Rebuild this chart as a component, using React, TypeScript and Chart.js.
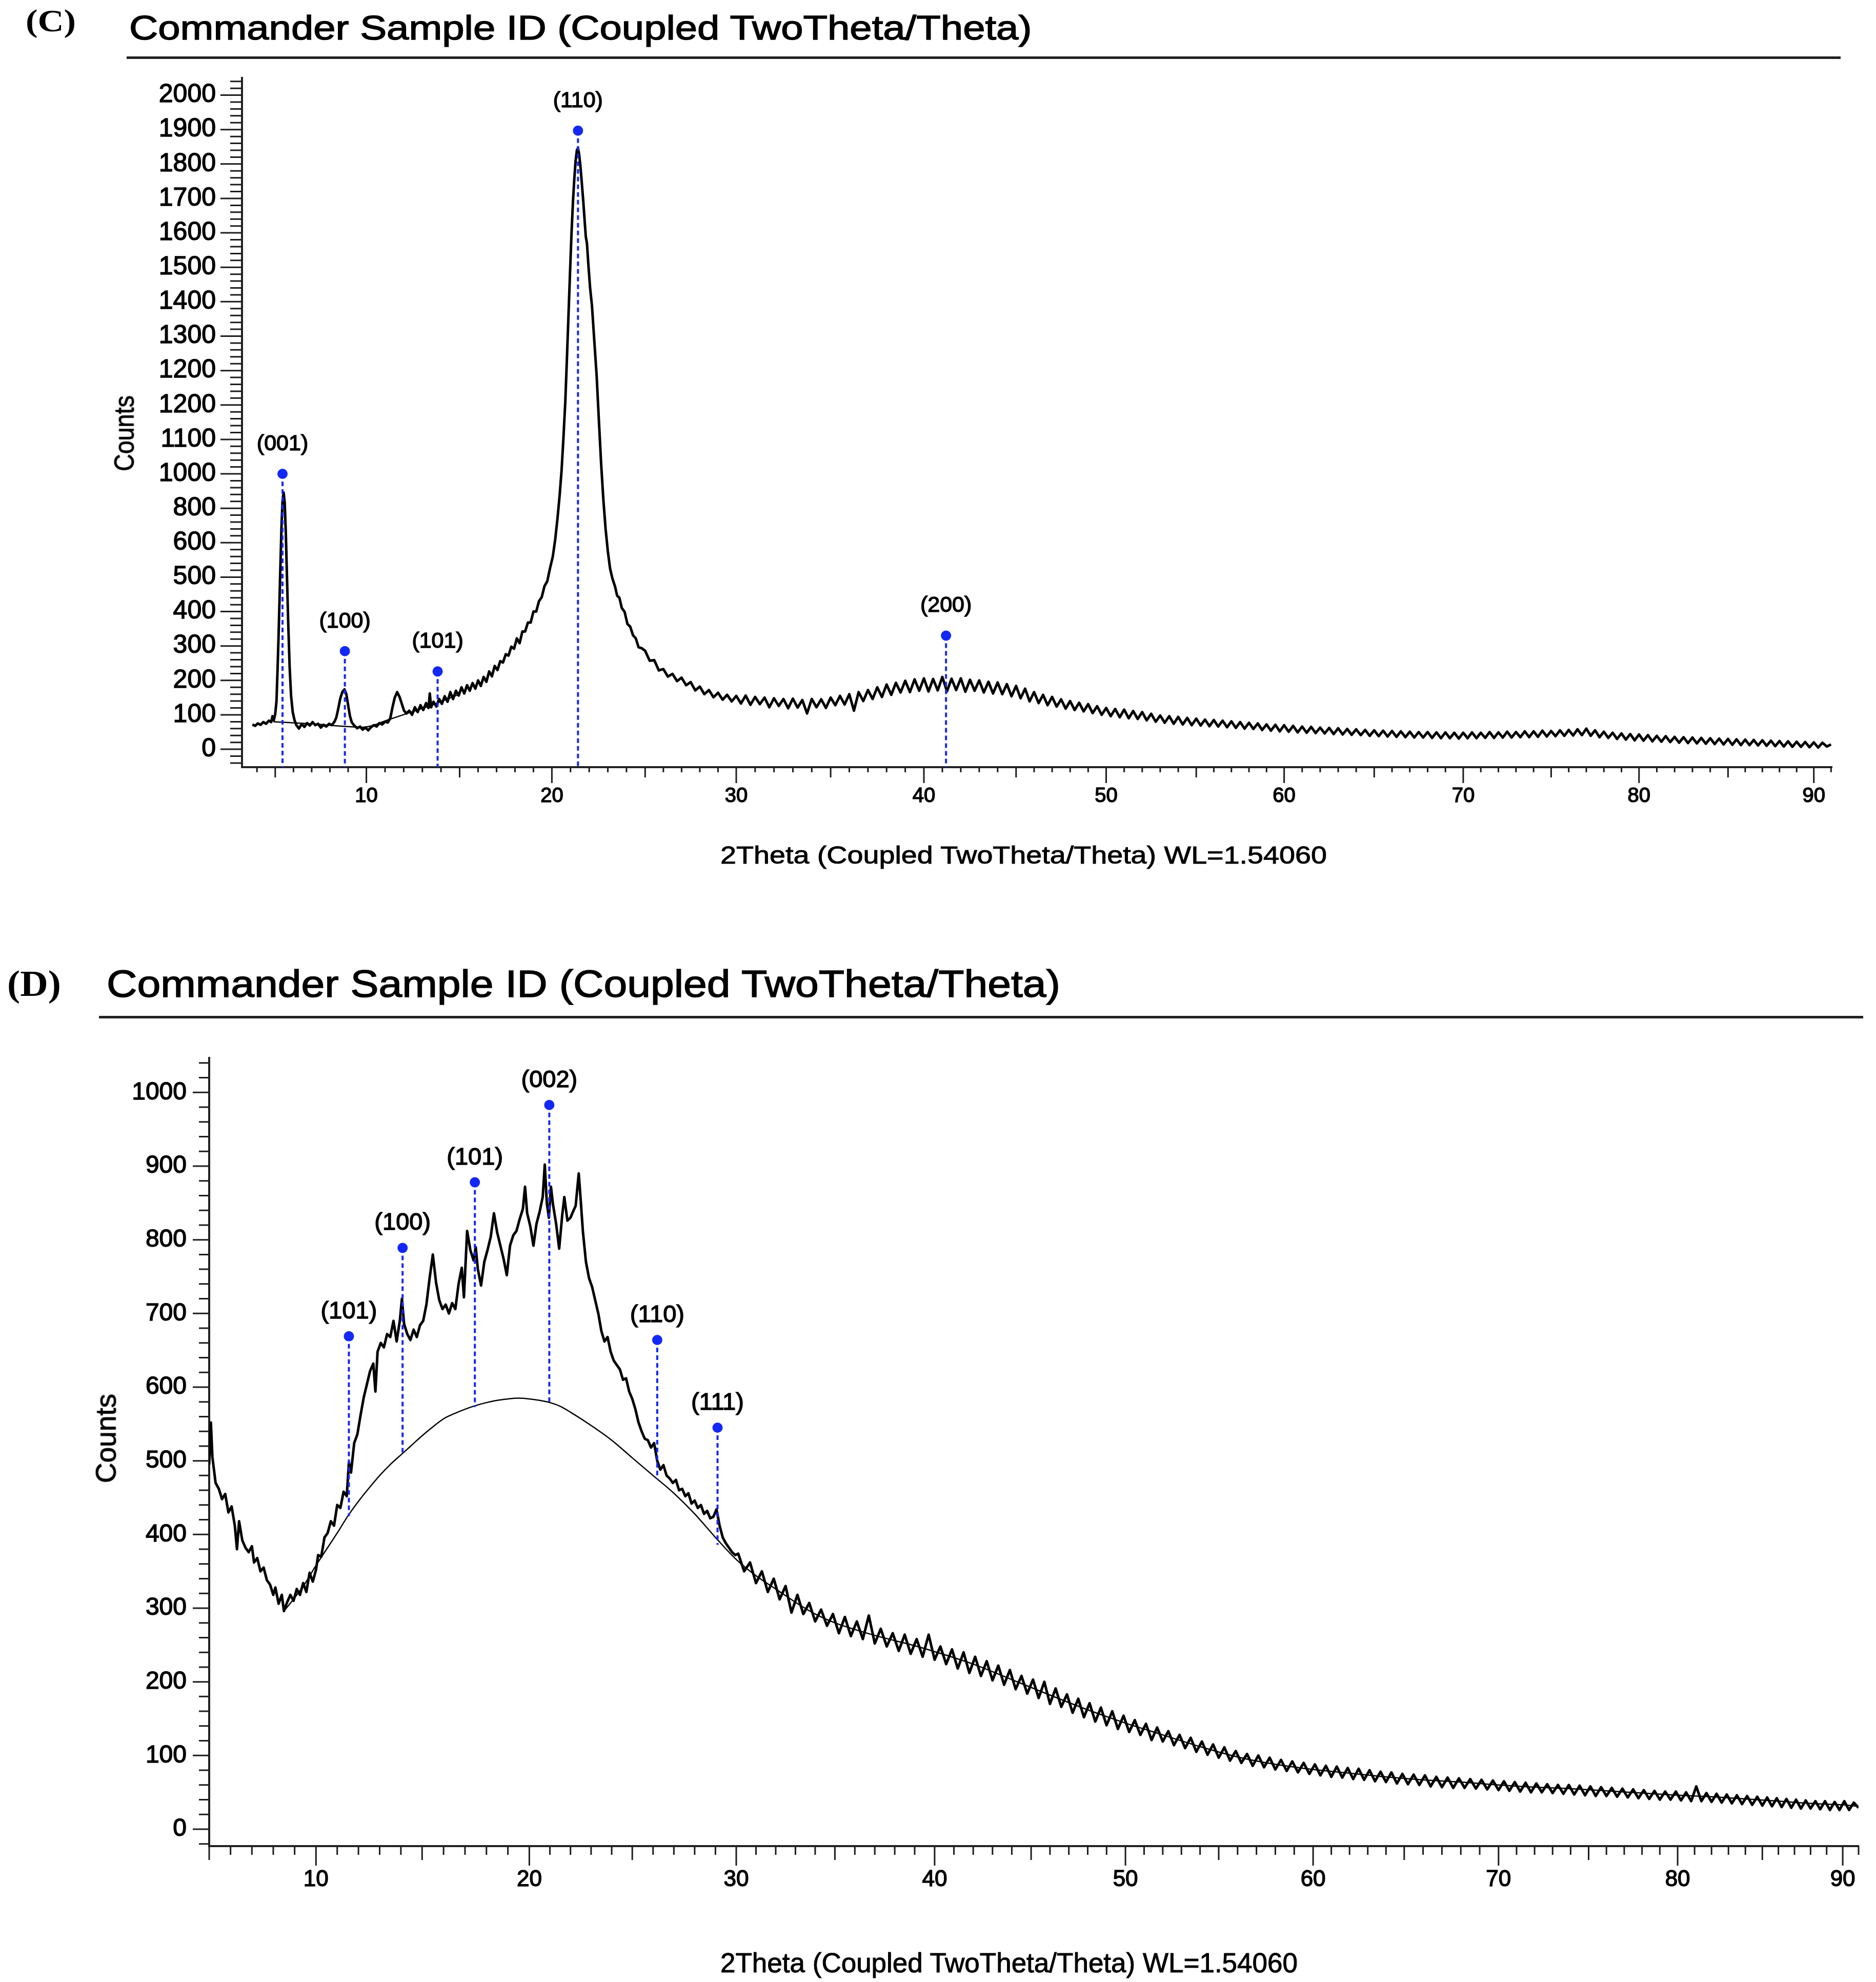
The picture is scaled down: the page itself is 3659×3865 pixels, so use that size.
import { useEffect, useRef } from 'react';
import { Chart, LinearScale, registerables } from 'chart.js';

// ---- panel C data (counts in axis units, 100 per labelled step) ----
const cScan: [number, number][] = [
  [3.75,72],[3.9,68],[4.05,75],[4.2,71],[4.35,79],[4.5,74],[4.65,83],[4.78,79],[4.85,96],[4.92,84],
  [5.0,102],[5.07,140],[5.13,235],[5.2,360],[5.27,505],[5.34,640],[5.4,722],[5.46,746],[5.52,716],[5.58,630],
  [5.64,510],[5.71,372],[5.79,240],[5.87,155],[5.96,108],[6.06,84],[6.16,70],
  [6.3,60],[6.45,73],[6.6,65],[6.75,76],[6.9,69],[7.05,79],[7.2,70],[7.35,74],[7.5,63],[7.65,71],[7.8,66],
  [7.95,74],[8.1,70],[8.25,80],[8.35,92],
  [8.45,116],[8.57,148],[8.68,166],[8.8,174],[8.9,160],[9.0,128],[9.1,96],[9.2,78],
  [9.35,68],[9.5,61],[9.65,66],[9.8,57],[9.95,63],[10.1,55],[10.25,64],[10.4,70],[10.55,66],[10.7,76],
  [10.85,72],[11.0,80],[11.15,78],[11.28,90],
  [11.4,122],[11.52,150],[11.65,166],[11.78,152],[11.9,132],[12.02,112],[12.15,104],
  [12.3,112],[12.45,100],[12.6,122],[12.75,108],[12.9,128],[13.05,114],[13.2,134],[13.33,120],[13.4,162],
  [13.47,122],[13.6,138],[13.75,124],[13.9,146],[14.05,132],[14.2,154],[14.35,138],[14.5,166],[14.65,146],
  [14.8,170],[14.95,156],[15.1,180],[15.25,162],[15.4,186],[15.55,170],[15.7,192],[15.85,176],[16.0,200],
  [16.15,184],[16.3,210],[16.45,196],[16.6,226],[16.75,212],[16.9,242],[17.05,230],[17.2,256],[17.35,252],
  [17.5,276],[17.65,272],[17.8,298],[17.95,292],[18.1,322],[18.25,308],[18.4,342],[18.55,342],[18.7,368],
  [18.85,368],[19.0,400],[19.15,400],[19.3,430],[19.45,442],[19.6,474],[19.75,488],[19.9,526],[20.05,560],
  [20.18,610],[20.3,670],[20.42,740],[20.52,810],[20.62,905],[20.72,1010],[20.81,1140],[20.89,1260],
  [20.97,1380],[21.05,1495],[21.13,1590],[21.2,1655],[21.27,1708],[21.34,1740],[21.4,1746],[21.46,1728],
  [21.52,1700],[21.6,1648],[21.68,1594],[21.75,1540],[21.82,1488],[21.88,1470],[21.96,1405],[22.05,1340],
  [22.15,1288],[22.27,1190],[22.4,1085],[22.52,955],[22.64,830],[22.76,725],[22.88,640],[23.0,575],
  [23.12,525],[23.25,495],[23.38,474],[23.5,446],[23.62,440],[23.75,410],[23.9,399],[24.05,364],[24.2,356],
  [24.35,331],[24.5,322],[24.65,296],[24.8,294],
  [25.0,286],[25.25,257],[25.5,259],[25.75,229],[26.0,233],[26.25,211],[26.5,219],[26.75,198],[27.0,208],
  [27.25,186],[27.5,195],[27.75,171],[28.0,182],[28.25,160],[28.5,172],[28.75,151],[29.0,164],[29.25,144],
  [29.5,158],[29.75,139],[30.0,155],[30.25,133],[30.5,156],[30.75,129],[31.0,152],[31.25,131],[31.5,150],
  [31.75,122],[32.0,148],[32.25,126],[32.5,146],[32.75,119],[33.0,147],[33.25,121],[33.5,143],[33.75,104],
  [34.0,146],[34.25,122],[34.5,145],[34.75,120],[35.0,150],[35.25,128],[35.5,155],[35.75,130],[36.0,160],
  [36.25,112],[36.5,166],[36.75,140],[37.0,172],[37.25,146],[37.5,180],[37.75,152],[38.0,188],[38.25,158],
  [38.5,193],[38.75,165],[39.0,199],[39.25,166],[39.5,203],[39.75,170],[40.0,206],[40.25,168],[40.5,204],
  [40.75,171],[41.0,210],[41.25,168],[41.5,205],[41.75,172],[42.0,206],[42.25,167],[42.5,202],[42.75,170],
  [43.0,200],[43.25,165],[43.5,196],[43.75,162],[44.0,194],[44.25,160],[44.5,189],[44.75,154],[45.0,184],
  [45.25,148],[45.5,176],[45.75,139],[46.0,166],[46.25,134],[46.5,158],[46.75,128],[47.0,152],[47.25,124],
  [47.5,145],[47.75,118],[48.0,140],[48.25,114],[48.5,135],[48.75,110],[49.0,131],[49.25,105],[49.5,125],
  [49.75,100],[50.0,120],[50.25,96],[50.5,117],[50.75,93],[51.0,115],[51.25,90],[51.5,111],[51.75,88],
  [52.0,108],[52.25,84],[52.5,103],[52.75,80],[53.0,98],[53.25,77],[53.5,96],[53.75,74],[54.0,94],[54.25,72],
  [54.5,91],[54.75,70],[55.0,89],[55.25,69],[55.5,86],[55.75,67],[56.0,85],[56.25,66],[56.5,83],[56.75,64],
  [57.0,81],[57.25,62],[57.5,79],[57.75,60],[58.0,77],[58.25,59],[58.5,75],[58.75,56],[59.0,72],[59.25,54],
  [59.5,71],[59.75,52],[60.0,70],[60.25,51],[60.5,68],[60.75,49],[61.0,66],[61.25,48],[61.5,65],[61.75,47],
  [62.0,63],[62.25,46],[62.5,62],[62.75,44],[63.0,61],[63.25,43],[63.5,59],[63.75,42],[64.0,58],[64.25,41],
  [64.5,56],[64.75,39],[65.0,55],[65.25,38],[65.5,54],[65.75,37],[66.0,53],[66.25,36],[66.5,52],[66.75,35],
  [67.0,51],[67.25,34],[67.5,50],[67.75,34],[68.0,50],[68.25,33],[68.5,49],[68.75,32],[69.0,49],[69.25,32],
  [69.5,48],[69.75,31],[70.0,48],[70.25,32],[70.5,49],[70.75,32],[71.0,48],[71.25,33],[71.5,50],[71.75,33],
  [72.0,49],[72.25,34],[72.5,51],[72.75,34],[73.0,50],[73.25,35],[73.5,52],[73.75,35],[74.0,52],[74.25,36],
  [74.5,54],[74.75,37],[75.0,53],[75.25,38],[75.5,55],[75.75,39],[76.0,56],[76.25,40],[76.5,58],[76.75,41],
  [77.0,60],[77.25,39],[77.5,55],[77.75,35],[78.0,51],[78.25,33],[78.5,48],[78.75,30],[79.0,46],[79.25,28],
  [79.5,44],[79.75,26],[80.0,43],[80.25,25],[80.5,41],[80.75,23],[81.0,39],[81.25,22],[81.5,38],[81.75,21],
  [82.0,36],[82.25,19],[82.5,35],[82.75,18],[83.0,34],[83.25,17],[83.5,33],[83.75,16],[84.0,32],[84.25,15],
  [84.5,31],[84.75,14],[85.0,30],[85.25,13],[85.5,29],[85.75,12],[86.0,28],[86.25,12],[86.5,27],[86.75,11],
  [87.0,26],[87.25,10],[87.5,25],[87.75,9],[88.0,24],[88.25,8],[88.5,23],[88.75,7],[89.0,22],[89.25,7],
  [89.5,21],[89.75,6],[90.0,20],[90.25,5],[90.5,19],[90.75,8],[91.0,14],
];
const cBackground: [number, number][] = [
  [4.9,80],[7,74],[9.8,64],[11.3,88],[12.3,106],[13.5,128],[15,160],
];
const cPeakLabels = ['(001)', '(100)', '(101)', '(110)', '(200)'];
const cPeakTheta = [5.4, 8.82, 13.82, 21.4, 41.2];
const cPeakTop = [800, 285, 226, 1797, 330];
// the y axis of panel C is printed with these labels, one per 100 axis units
const cCountTicks = ['0', '100', '200', '300', '400', '500', '600', '800', '1000', '1100',
  '1200', '1200', '1300', '1400', '1500', '1600', '1700', '1800', '1900', '2000'];
const cCountRange = [-52, 1950];

// ---- panel D data ----
const dScan: [number, number][] = [
  [5.0,495],[5.08,552],[5.15,505],[5.3,470],[5.45,462],[5.6,448],[5.75,455],[5.9,430],[6.05,438],[6.2,412],
  [6.3,380],[6.4,418],[6.55,392],[6.7,382],[6.85,376],[7.0,384],[7.1,362],[7.25,368],[7.4,350],[7.55,355],
  [7.7,338],[7.85,332],[8.0,318],[8.1,328],[8.25,306],[8.4,318],[8.5,296],[8.65,308],[8.8,318],[8.95,310],
  [9.1,326],[9.25,318],[9.4,334],[9.55,322],[9.7,348],[9.85,336],[10.0,352],[10.1,372],[10.25,370],[10.4,396],
  [10.55,402],[10.7,418],[10.85,412],[11.0,440],[11.15,436],[11.3,458],[11.45,452],[11.55,498],[11.65,484],
  [11.8,524],[11.95,536],[12.1,562],[12.25,586],[12.4,604],[12.55,622],[12.7,632],[12.8,594],[12.9,648],
  [13.05,660],[13.2,654],[13.35,672],[13.5,668],[13.65,690],[13.8,662],[13.95,690],[14.05,720],[14.15,686],
  [14.3,672],[14.45,664],[14.6,678],[14.75,668],[14.9,684],[15.05,690],[15.2,712],[15.35,748],[15.5,780],
  [15.65,742],[15.8,718],[15.95,706],[16.1,712],[16.25,700],[16.4,714],[16.55,706],[16.7,740],[16.85,762],
  [16.95,722],[17.1,812],[17.25,786],[17.4,772],[17.5,790],[17.6,760],[17.75,738],[17.9,770],[18.05,786],
  [18.2,804],[18.35,836],[18.5,810],[18.65,792],[18.8,774],[18.95,752],[19.1,792],[19.25,806],[19.4,812],
  [19.55,828],[19.7,842],[19.8,872],[19.9,836],[20.05,818],[20.2,792],[20.35,822],[20.5,838],[20.65,858],
  [20.75,902],[20.85,850],[20.95,830],[21.05,872],[21.15,848],[21.3,822],[21.45,788],[21.6,834],[21.7,858],
  [21.85,826],[22.0,830],[22.15,840],[22.25,846],[22.4,890],[22.5,852],[22.6,812],[22.75,770],[22.9,748],
  [23.05,736],[23.2,718],[23.35,700],[23.5,676],[23.65,662],[23.8,668],[23.95,648],[24.1,636],[24.25,630],
  [24.4,624],[24.55,610],[24.7,612],[24.85,594],[25.0,584],[25.15,570],[25.3,552],[25.45,540],[25.6,530],
  [25.75,528],[25.9,518],[26.05,524],[26.2,500],[26.35,488],[26.5,494],[26.65,480],[26.8,476],[26.95,470],
  [27.1,474],[27.25,460],[27.4,462],[27.55,452],[27.7,456],[27.85,442],[28.0,446],[28.15,436],[28.3,440],
  [28.45,428],[28.6,432],[28.75,422],[28.9,424],[29.05,434],[29.2,412],[29.35,396],[29.5,388],[29.65,382],
  [29.8,376],[29.95,372],
  [30.1,374],[30.4,350],[30.7,362],[31.0,334],[31.3,350],[31.6,322],[31.9,340],[32.2,312],[32.5,330],
  [32.8,294],[33.1,318],[33.4,292],[33.7,307],[34.0,282],[34.3,298],[34.6,276],[34.9,292],[35.2,266],
  [35.5,288],[35.8,262],[36.1,282],[36.4,258],[36.7,290],[37.0,252],[37.3,272],[37.6,248],[37.9,266],
  [38.2,242],[38.5,264],[38.8,238],[39.1,258],[39.4,234],[39.7,264],[40.0,230],[40.3,248],[40.6,224],
  [40.9,244],[41.2,218],[41.5,240],[41.8,212],[42.1,234],[42.4,208],[42.7,228],[43.0,202],[43.3,222],
  [43.6,196],[43.9,216],[44.2,190],[44.5,208],[44.8,184],[45.1,203],[45.4,178],[45.7,200],[46.0,170],
  [46.3,191],[46.6,166],[46.9,183],[47.2,158],[47.5,177],[47.8,152],[48.1,171],[48.4,146],[48.7,165],
  [49.0,141],[49.3,160],[49.6,136],[49.9,154],[50.2,132],[50.5,148],[50.8,128],[51.1,143],[51.4,121],
  [51.7,138],[52.0,119],[52.3,133],[52.6,114],[52.9,128],[53.2,110],[53.5,124],[53.8,105],[54.1,119],
  [54.4,101],[54.7,115],[55.0,97],[55.3,111],[55.6,93],[55.9,106],[56.2,90],[56.5,102],[56.8,86],[57.1,100],
  [57.4,84],[57.7,97],[58.0,81],[58.3,94],[58.6,79],[58.9,92],[59.2,77],[59.5,90],[59.8,75],[60.1,88],
  [60.4,73],[60.7,86],[61.0,71],[61.3,85],[61.6,70],[61.9,83],[62.2,68],[62.5,82],[62.8,67],[63.1,80],
  [63.4,65],[63.7,78],[64.0,64],[64.3,77],[64.6,62],[64.9,75],[65.2,61],[65.5,74],[65.8,60],[66.1,73],
  [66.4,58],[66.7,71],[67.0,57],[67.3,70],[67.6,56],[67.9,69],[68.2,56],[68.5,68],[68.8,55],[69.1,67],
  [69.4,54],[69.7,66],[70.0,53],[70.3,65],[70.6,52],[70.9,64],[71.2,51],[71.5,63],[71.8,50],[72.1,62],
  [72.4,50],[72.7,61],[73.0,49],[73.3,60],[73.6,48],[73.9,60],[74.2,47],[74.5,59],[74.8,46],[75.1,58],
  [75.4,45],[75.7,57],[76.0,45],[76.3,56],[76.6,44],[76.9,55],[77.2,43],[77.5,54],[77.8,42],[78.1,53],
  [78.4,41],[78.7,52],[79.0,40],[79.3,51],[79.6,40],[79.9,51],[80.2,39],[80.5,50],[80.8,38],[81.1,58],
  [81.4,38],[81.7,49],[82.0,37],[82.3,48],[82.6,36],[82.9,47],[83.2,35],[83.5,46],[83.8,34],[84.1,45],
  [84.4,33],[84.7,44],[85.0,32],[85.3,43],[85.6,31],[85.9,42],[86.2,30],[86.5,41],[86.8,29],[87.1,40],
  [87.4,28],[87.7,39],[88.0,28],[88.3,38],[88.6,27],[88.9,38],[89.2,26],[89.5,37],[89.8,26],[90.1,38],
  [90.4,26],[90.7,36],[91.0,29],
];
const dBackground: [number, number][] = [
  [8.5,296],[9,314],[9.5,334],[10,358],[10.5,380],[11,402],[11.5,425],[12,445],[12.5,463],[13,480],
  [13.5,495],[14,508],[14.5,521],[15,534],[15.5,546],[16,557],[16.5,564],[17,570],[17.5,575],[18,579],
  [18.5,582],[19,584],[19.5,585],[20,584],[20.5,582],[21,579],[21.5,574],[22,566],[23,548],[24,528],
  [25,504],[26,480],[27,456],[28,428],[29,396],[30,366],[31,344],[32,326],[33,308],[34,292],[35,280],
  [36,271],[37,263],[38,256],[39,249],[40,241],[42,224],[44,203],[46,182],[48,162],[50,144],[52,128],
  [54,112],[56,98],[58,88],[60,81],[62,76],[64,71],[66,67],[68,64],[70,60],[72,57],[74,55],[76,52],
  [78,49],[80,46],[82,44],[84,41],[86,38],[88,35],[90,33],[91,31],
];
const dPeakLabels = ['(101)', '(100)', '(101)', '(002)', '(110)', '(111)'];
const dPeakTheta = [11.55, 14.08, 17.46, 20.97, 26.2, 29.1];
const dPeakTop = [669, 789, 878, 983, 664, 545];
const dPeakBase = [425, 511, 573, 579, 475, 386];
const dCountTicks = ['0', '100', '200', '300', '400', '500', '600', '700', '800', '900', '1000'];
const dCountRange = [-23, 1047];

const thetaTicks = [10, 20, 30, 40, 50, 60, 70, 80, 90];

// the printed 2theta axes are not evenly spaced: [value, page px] calibration marks
const cThetaMarks = [
  [3.18, 472], [5, 536.8], [10, 714.6], [15, 896.5], [20, 1076.4], [25, 1258.3], [30, 1436], [35, 1620.1],
  [40, 1802], [45, 1981.8], [50, 2157.5], [55, 2333.2], [60, 2504.6], [65, 2680.3], [70, 2853.9],
  [75, 3025.4], [80, 3196.8], [85, 3370.4], [90, 3537.7], [91.05, 3573],
];
const dThetaMarks = [
  [5, 408], [10, 616.3], [15, 823.3], [20, 1032.4], [25, 1233.2], [30, 1436], [35, 1628.4], [40, 1822.9],
  [45, 2011.1], [50, 2195.1], [55, 2377], [60, 2561.1], [65, 2738.8], [70, 2922.8], [75, 3098.5],
  [80, 3272.1], [85, 3437.3], [90, 3594.1], [91, 3625],
];

function thetaScale(id: string, marks: number[][]) {
  const p0 = marks[0][1];
  const span = marks[marks.length - 1][1] - p0;
  return class extends LinearScale {
    static id = id;
    static defaults = LinearScale.defaults;
    getPixelForValue(value: number) {
      if (value === null || value === undefined || Number.isNaN(value)) return NaN;
      let i = 1;
      while (i < marks.length - 1 && value > marks[i][0]) i++;
      const [va, pa] = marks[i - 1];
      const [vb, pb] = marks[i];
      const px = pa + ((value - va) * (pb - pa)) / (vb - va);
      return this.getPixelForDecimal((px - p0) / span);
    }
    getValueForPixel(pixel: number) {
      const px = p0 + this.getDecimalForPixel(pixel) * span;
      let i = 1;
      while (i < marks.length - 1 && px > marks[i][1]) i++;
      const [va, pa] = marks[i - 1];
      const [vb, pb] = marks[i];
      return va + ((px - pa) * (vb - va)) / (pb - pa);
    }
  };
}

Chart.register(...registerables, thetaScale('thetaC', cThetaMarks), thetaScale('thetaD', dThetaMarks));

const SANS = "'Liberation Sans', Arial, Helvetica, sans-serif";
const SERIF = "'Liberation Serif', 'Times New Roman', serif";
const BLUE = '#1428f5';

// minor / medium / major tick marks along both axes
const tickMarks = {
  id: 'tickMarks',
  afterDraw(chart: any, _args: any, o: any) {
    const { ctx } = chart;
    const xs = chart.scales.x;
    const ys = chart.scales.y;
    ctx.save();
    ctx.strokeStyle = '#1c1c1c';
    ctx.lineWidth = 3;
    ctx.beginPath();
    for (let v = Math.ceil(xs.min); v <= xs.max; v++) {
      const len = v % 10 === 0 ? o.xMajor : v % 5 === 0 ? o.xMid : o.xMinor;
      const px = xs.getPixelForValue(v);
      ctx.moveTo(px, xs.top);
      ctx.lineTo(px, xs.top + len);
    }
    for (let i = Math.ceil(ys.min / 20); i * 20 <= ys.max; i++) {
      const len = (i * 20) % 100 === 0 ? o.yMajor : o.yMinor;
      const py = ys.getPixelForValue(i * 20);
      ctx.moveTo(ys.right, py);
      ctx.lineTo(ys.right - len, py);
    }
    ctx.stroke();
    ctx.restore();
  },
};

const peakLabels = {
  id: 'peakLabels',
  afterDatasetsDraw(chart: any, _args: any, o: any) {
    const { ctx } = chart;
    ctx.save();
    ctx.font = `${o.size}px ${SANS}`;
    ctx.fillStyle = '#000';
    ctx.strokeStyle = '#000';
    ctx.lineWidth = 1.5;
    ctx.textAlign = 'center';
    ctx.textBaseline = 'middle';
    chart.data.datasets.forEach((ds: any, i: number) => {
      if (!ds.peakLabel) return;
      const dot = chart.getDatasetMeta(i).data[0];
      ctx.fillText(ds.peakLabel, dot.x, dot.y - o.gap);
      ctx.strokeText(ds.peakLabel, dot.x, dot.y - o.gap);
    });
    ctx.restore();
  },
};

interface PanelProps {
  height: number;
  xType: string;
  marks: number[][];
  yRange: number[];
  yTicks: string[];
  scan: [number, number][];
  background: [number, number][];
  peaks: { label: string; x: number; top: number; base: number }[];
  box: { left: number; right: number; top: number; bottom: number };
  fonts: { x: number; y: number; peak: number };
  pad: { x: number; y: number; peakGap: number };
  ticks: { xMinor: number; xMid: number; xMajor: number; yMinor: number; yMajor: number };
}

function XrdPanel(p: PanelProps) {
  const ref = useRef<HTMLCanvasElement>(null);

  useEffect(() => {
    if (!ref.current) return;
    const peakSets = p.peaks.map((pk) => ({
      type: 'line' as const,
      peakLabel: pk.label,
      data: [{ x: pk.x, y: pk.top }, { x: pk.x, y: pk.base }],
      borderColor: BLUE,
      borderWidth: 4,
      borderDash: [9, 6],
      pointRadius: [10, 0],
      pointBackgroundColor: BLUE,
      pointBorderWidth: 0,
    }));
    const tickText = { textStrokeColor: '#000', textStrokeWidth: 1.5, color: '#000' };
    const chart = new Chart(ref.current, {
      type: 'line',
      data: {
        datasets: [
          ...peakSets,
          {
            data: p.scan.map(([x, y]) => ({ x, y })),
            borderColor: '#000',
            borderWidth: 5,
            borderJoinStyle: 'round',
            pointRadius: 0,
          },
          {
            data: p.background.map(([x, y]) => ({ x, y })),
            borderColor: '#000',
            borderWidth: 2.5,
            pointRadius: 0,
            cubicInterpolationMode: 'monotone',
          },
        ] as any,
      },
      options: {
        responsive: false,
        animation: false,
        devicePixelRatio: 1,
        events: [],
        layout: { padding: { left: 0, top: p.box.top, right: 3659 - p.box.right, bottom: 0 } },
        plugins: {
          legend: { display: false },
          tooltip: { enabled: false },
          tickMarks: p.ticks,
          peakLabels: { size: p.fonts.peak, gap: p.pad.peakGap },
        } as any,
        scales: {
          x: {
            type: p.xType as any,
            min: p.marks[0][0],
            max: p.marks[p.marks.length - 1][0],
            afterFit: (s: any) => { s.height = p.height - p.box.bottom; },
            afterBuildTicks: (s: any) => { s.ticks = thetaTicks.map((value) => ({ value })); },
            border: { display: true, color: '#222', width: 4 },
            grid: { drawOnChartArea: false, drawTicks: false },
            ticks: {
              ...tickText,
              autoSkip: false,
              maxRotation: 0,
              padding: p.pad.x,
              font: { family: SANS, size: p.fonts.x },
              callback: (v: any) => String(v),
            },
          },
          y: {
            min: p.yRange[0],
            max: p.yRange[1],
            afterFit: (s: any) => { s.width = p.box.left; },
            afterBuildTicks: (s: any) => { s.ticks = p.yTicks.map((_, i) => ({ value: i * 100 })); },
            border: { display: true, color: '#222', width: 4 },
            grid: { drawOnChartArea: false, drawTicks: false },
            ticks: {
              ...tickText,
              autoSkip: false,
              padding: p.pad.y,
              font: { family: SANS, size: p.fonts.y },
              callback: (v: any) => p.yTicks[Math.round(Number(v) / 100)] ?? null,
            },
          },
        },
      } as any,
      plugins: [tickMarks, peakLabels],
    });
    return () => chart.destroy();
  }, []);

  return <canvas ref={ref} width={3659} height={p.height} style={{ display: 'block' }} />;
}

const txt = (size: number, extra: React.CSSProperties): React.CSSProperties => ({
  position: 'absolute',
  fontFamily: SANS,
  fontSize: size,
  lineHeight: `${size}px`,
  whiteSpace: 'nowrap',
  color: '#000',
  transformOrigin: 'left top',
  WebkitTextStroke: '1px #000',
  ...extra,
});

export default function App() {
  const cPeaks = cPeakLabels.map((label, i) => ({ label, x: cPeakTheta[i], top: cPeakTop[i], base: cCountRange[0] }));
  const dPeaks = dPeakLabels.map((label, i) => ({ label, x: dPeakTheta[i], top: dPeakTop[i], base: dPeakBase[i] }));

  return (
    <div style={{ position: 'absolute', left: 0, top: 0, width: 3659, height: 3865, background: '#fff', overflow: 'hidden' }}>
      <div style={{ position: 'absolute', left: 0, top: 0 }}>
        <XrdPanel
          height={1760}
          xType="thetaC"
          marks={cThetaMarks}
          yRange={cCountRange}
          yTicks={cCountTicks}
          scan={cScan}
          background={cBackground}
          peaks={cPeaks}
          box={{ left: 472, right: 3573, top: 152, bottom: 1496 }}
          fonts={{ x: 40, y: 50, peak: 43 }}
          pad={{ x: 33, y: 51, peakGap: 58 }}
          ticks={{ xMinor: 10, xMid: 20, xMajor: 31, yMinor: 23, yMajor: 42 }}
        />
      </div>
      <div style={{ position: 'absolute', left: 0, top: 1990 }}>
        <XrdPanel
          height={1875}
          xType="thetaD"
          marks={dThetaMarks}
          yRange={dCountRange}
          yTicks={dCountTicks}
          scan={dScan}
          background={dBackground}
          peaks={dPeaks}
          box={{ left: 408, right: 3625, top: 39, bottom: 1610 }}
          fonts={{ x: 44, y: 48, peak: 47 }}
          pad={{ x: 39, y: 44, peakGap: 48 }}
          ticks={{ xMinor: 17, xMid: 27, xMajor: 38, yMinor: 20, yMajor: 32 }}
        />
      </div>

      <div style={txt(62, { fontFamily: SERIF, fontWeight: 'bold', left: 50, top: 9, transform: 'scaleX(1.14)', WebkitTextStroke: '0px' })}>(C)</div>
      <div style={txt(66, { left: 252, top: 21, transform: 'scaleX(1.18)', WebkitTextStroke: '1.5px #000' })}>Commander Sample ID (Coupled TwoTheta/Theta)</div>
      <div style={{ position: 'absolute', left: 247, top: 110, width: 3343, height: 5, background: '#222' }} />
      <div style={txt(53, { left: 242, top: 845, transformOrigin: 'center', transform: 'translate(-50%, -50%) rotate(-90deg) scaleX(0.88)' })}>Counts</div>
      <div style={txt(48, { left: 1405, top: 1644, transform: 'scaleX(1.16)' })}>2Theta (Coupled TwoTheta/Theta) WL=1.54060</div>

      <div style={txt(72, { fontFamily: SERIF, fontWeight: 'bold', left: 14, top: 1882, transform: 'scaleX(1.05)', WebkitTextStroke: '0px' })}>(D)</div>
      <div style={txt(74, { left: 208, top: 1882, transform: 'scaleX(1.112)', WebkitTextStroke: '1.5px #000' })}>Commander Sample ID (Coupled TwoTheta/Theta)</div>
      <div style={{ position: 'absolute', left: 193, top: 1981, width: 3441, height: 5, background: '#222' }} />
      <div style={txt(55, { left: 207, top: 2805, transformOrigin: 'center', transform: 'translate(-50%, -50%) rotate(-90deg)' })}>Counts</div>
      <div style={txt(53, { left: 1968, top: 3801, transformOrigin: 'center', transform: 'translateX(-50%)' })}>2Theta (Coupled TwoTheta/Theta) WL=1.54060</div>
    </div>
  );
}
